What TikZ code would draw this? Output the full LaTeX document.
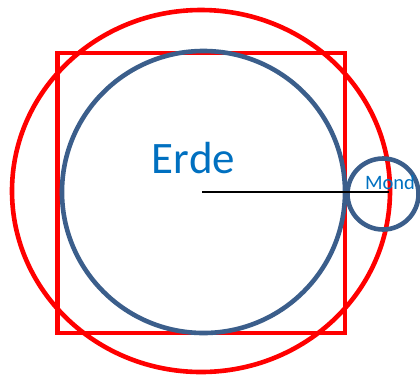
\documentclass[tikz,border=0pt]{standalone}
\usepackage{fontspec}
\setmainfont{Carlito}
\usepackage{xcolor}
\usepackage{tikz}
\usetikzlibrary{positioning}

\definecolor{erdblau}{HTML}{3B5E8B}
\definecolor{textblau}{HTML}{0070C0}

\begin{document}
\begin{tikzpicture}[
    x=1pt, y=-1pt,
    rot/.style={draw=red, line width=4.6pt},
    blau/.style={draw=erdblau, line width=4.6pt},
    label/.style={text=textblau, inner sep=0pt, anchor=base}
  ]
    \useasboundingbox (0,0) rectangle (420,376);
    \draw[rot] (201,191) ellipse [x radius=189, y radius=181];
    \draw[rot] (57.5,53) rectangle (345,333);
    \draw[blau] (203.5,192) ellipse [x radius=141.5, y radius=141];
    \draw[blau] (383,194) circle [radius=35.5];
    \coordinate (mitte) at (202,192);
    \coordinate (rand) at (389,192);
    \draw[black, line width=2.4pt] (mitte) -- (rand);
    \node[label, font=\fontsize{45}{45}\selectfont] (erde) at (193.5,173) {Erde};
    \node[label, font=\fontsize{20.5}{20.5}\selectfont] (mond) at (390,189) {Mond};
  \end{tikzpicture}
\end{document}
